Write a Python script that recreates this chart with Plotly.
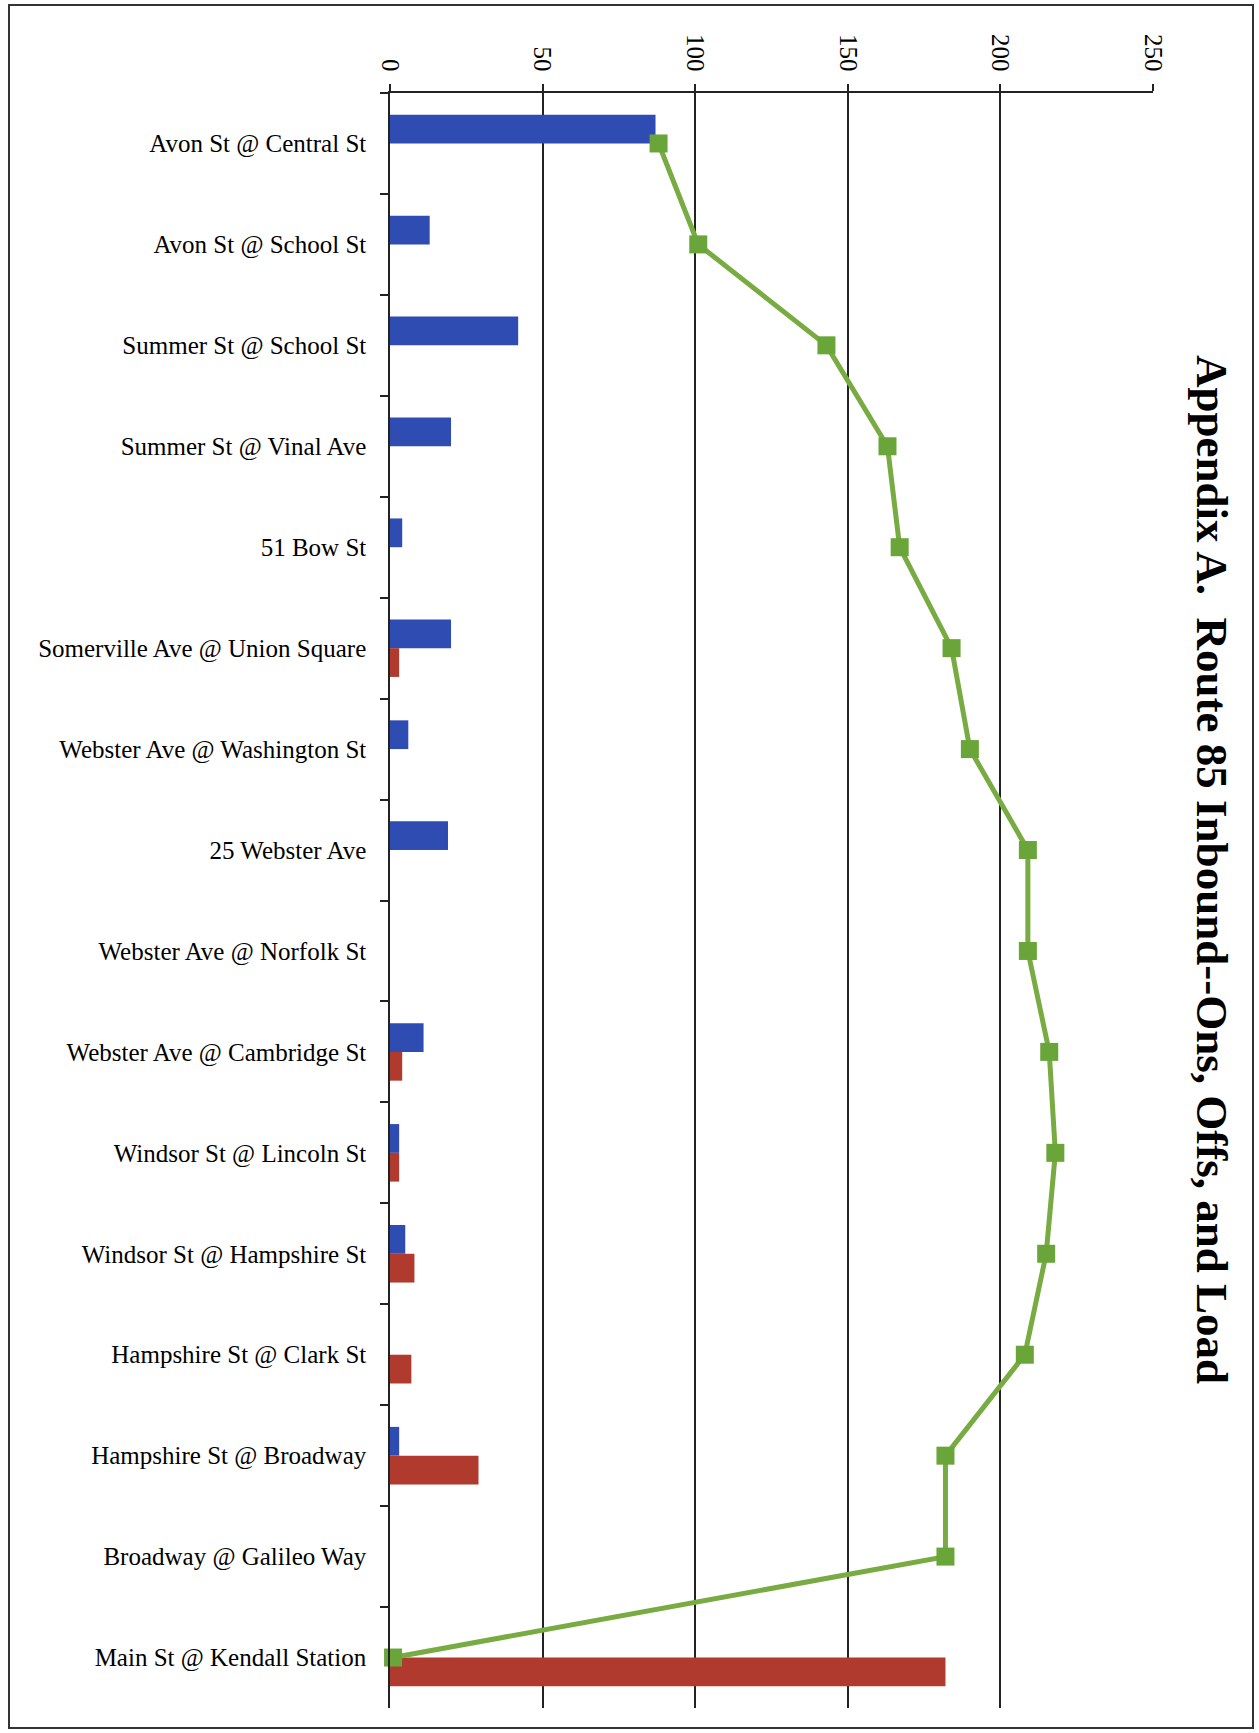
import plotly.graph_objects as go

stops = [
    "Avon St @ Central St", "Avon St @ School St", "Summer St @ School St",
    "Summer St @ Vinal Ave", "51 Bow St", "Somerville Ave @ Union Square",
    "Webster Ave @ Washington St", "25 Webster Ave", "Webster Ave @ Norfolk St",
    "Webster Ave @ Cambridge St", "Windsor St @ Lincoln St", "Windsor St @ Hampshire St",
    "Hampshire St @ Clark St", "Hampshire St @ Broadway", "Broadway @ Galileo Way",
    "Main St @ Kendall Station",
]
ons = [87, 13, 42, 20, 4, 20, 6, 19, 0, 11, 3, 5, 0, 3, 0, 0]
offs = [0, 0, 0, 0, 0, 3, 0, 0, 0, 4, 3, 8, 7, 29, 0, 182]
load = [88, 101, 143, 163, 167, 184, 190, 209, 209, 216, 218, 215, 208, 182, 182, 1]
x_ticks = [0, 50, 100, 150, 200, 250]

W, H = 1259, 1733
L, R, T, B = 390, 106, 93, 25
FONT = "Liberation Serif"

def px(x):
    return (x - L) / (W - L - R)

def py(y):
    return (H - B - y) / (H - T - B)

fig = go.Figure()
fig.add_trace(go.Bar(y=stops, x=ons, orientation="h", name="Ons",
                     marker=dict(color="#2f4cb3", line=dict(width=0))))
fig.add_trace(go.Bar(y=stops, x=offs, orientation="h", name="Offs",
                     marker=dict(color="#b03a2e", line=dict(width=0))))
fig.add_trace(go.Scatter(y=stops, x=load, mode="lines+markers", name="Load",
                         cliponaxis=False,
                         line=dict(color="#78ab42", width=5),
                         marker=dict(symbol="square", size=18, color="#6aa53a")))

fig.update_layout(
    width=W, height=H,
    margin=dict(l=L, r=R, t=T, b=B, pad=0),
    paper_bgcolor="white", plot_bgcolor="white",
    showlegend=False,
    barmode="group", bargap=0.43, bargroupgap=0,
    font=dict(family=FONT, color="black", size=25),
)
fig.update_xaxes(
    side="top", range=[0, 250], tickvals=x_ticks, ticktext=[str(v) for v in x_ticks],
    tickangle=90, showgrid=True, gridcolor="#222", gridwidth=1.5,
    showline=True, linecolor="#222", linewidth=1.5, zeroline=False,
    ticks="outside", ticklen=7, tickcolor="#222", tickwidth=1.5,
    tickfont=dict(family=FONT, size=25), ticklabelstandoff=4,
)
fig.update_yaxes(
    type="category", categoryorder="array", categoryarray=stops,
    range=[len(stops) - 0.5, -0.5], showgrid=False, showline=True, linecolor="#222",
    linewidth=1.5, ticks="outside", tickson="boundaries", ticklen=8,
    tickcolor="#222", tickwidth=1.5, tickfont=dict(family=FONT, size=25),
    ticklabelstandoff=17,
)

fig.add_annotation(
    text="<b>Appendix A.\u00a0 Route 85 Inbound--Ons, Offs, and Load</b>",
    xref="paper", yref="paper", x=px(1212), y=py(869),
    showarrow=False, textangle=90, font=dict(family=FONT, size=45, color="black"),
    xanchor="center", yanchor="middle",
)

# small extension of the value axis line to the left of zero
fig.add_shape(type="line", xref="paper", yref="paper",
              x0=px(382), x1=0, y0=1, y1=1, line=dict(color="#222", width=1.5))

fig.add_shape(type="rect", xref="paper", yref="paper",
              x0=px(9), x1=px(1253), y0=py(1728), y1=py(5),
              line=dict(color="#333", width=2), fillcolor="rgba(0,0,0,0)", layer="below")

fig.write_html("out.html")
